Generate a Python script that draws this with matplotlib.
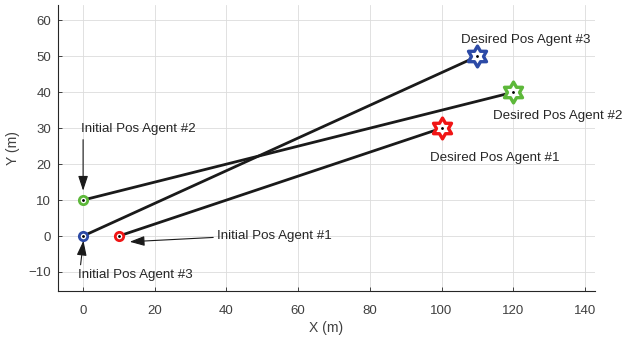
import matplotlib
matplotlib.use("Agg")
import matplotlib.pyplot as plt
import numpy as np
from matplotlib.path import Path

plt.rcParams['font.family'] = ['Liberation Sans', 'DejaVu Sans']

# trajectories (start -> goal) for each agent
agents = ["Agent #1", "Agent #2", "Agent #3"]
start_x = [10, 0, 0]
start_y = [0, 10, 0]
goal_x = [100, 120, 110]
goal_y = [30, 40, 50]
colors = ["#f01515", "#5db83a", "#2c4aa6"]

# hexagram marker like MATLAB's 'h'
ang = np.pi / 2 + np.arange(12) * np.pi / 6
rad = np.where(np.arange(12) % 2 == 0, 1.0, 0.577)
verts = np.column_stack([rad * np.cos(ang), rad * np.sin(ang)])
hexagram = Path(np.vstack([verts, verts[:1]]), closed=True)

fig = plt.figure(figsize=(6.36, 3.39), dpi=100)
ax = fig.add_axes([0.0912, 0.1416, 0.8443, 0.845])

for i in range(3):
    ax.plot([start_x[i], goal_x[i]], [start_y[i], goal_y[i]], color="#1a1a1a", lw=2, zorder=3)
    ax.plot(start_x[i], start_y[i], marker="o", ms=6, mfc="white", mec=colors[i], mew=2, zorder=4)
    ax.plot(start_x[i], start_y[i], marker=".", ms=2, color="black", zorder=5)
    ax.plot(goal_x[i], goal_y[i], marker=hexagram, ms=15, mfc="white", mec=colors[i], mew=2.4, zorder=4)
    ax.plot(goal_x[i], goal_y[i], marker=".", ms=2, color="black", zorder=5)

fs = 9.6
tc = "#262626"
ax.text(105.5, 54.4, "Desired Pos Agent #3", fontsize=fs, color=tc, va="center", clip_on=False)
ax.text(114.3, 33.3, "Desired Pos Agent #2", fontsize=fs, color=tc, va="center", clip_on=False)
ax.text(96.8, 21.7, "Desired Pos Agent #1", fontsize=fs, color=tc, va="center", clip_on=False)

arr = dict(arrowstyle="-|>,head_length=0.9,head_width=0.3", color="#1a1a1a", lw=0.8, shrinkA=0, shrinkB=0)
ax.annotate("", xy=(0, 12.6), xytext=(0, 26.8), arrowprops=arr)
ax.text(-0.5, 29.7, "Initial Pos Agent #2", fontsize=fs, color=tc, va="center")
ax.annotate("", xy=(13.0, -1.6), xytext=(36.3, -0.4), arrowprops=arr)
ax.text(37.4, 0, "Initial Pos Agent #1", fontsize=fs, color=tc, va="center")
ax.annotate("", xy=(0.1, -1.3), xytext=(-0.7, -8.0), arrowprops=arr)
ax.text(-1.4, -10.9, "Initial Pos Agent #3", fontsize=fs, color=tc, va="center")

ax.set_xlim(-7, 142.8)
ax.set_ylim(-15.3, 64.4)
ax.set_xticks(range(0, 141, 20))
ax.set_yticks(range(-10, 61, 10))
ax.grid(True, color="#dcdcdc", lw=0.6)
ax.set_axisbelow(True)
ax.tick_params(direction="in", length=3, width=0.6, colors="#262626", labelsize=9.5, labelcolor="#404040")
ax.tick_params(axis="x", pad=10)
ax.tick_params(axis="y", pad=5)
for s in ["top", "right"]:
    ax.spines[s].set_visible(False)
for s in ["left", "bottom"]:
    ax.spines[s].set_color("#262626")
    ax.spines[s].set_linewidth(0.8)
ax.set_xlabel("X (m)", fontsize=10, color="#404040", labelpad=3)
ax.set_ylabel("Y (m)", fontsize=10, color="#404040", labelpad=6)

fig.savefig("out.png", dpi=100)
